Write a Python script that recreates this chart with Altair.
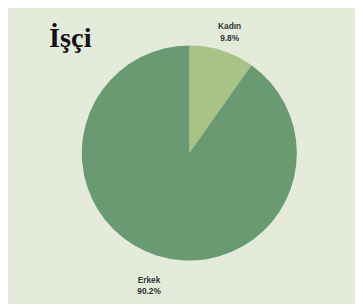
import altair as alt
import pandas as pd

categories = ["Kadın", "Erkek"]
shares = [9.8, 90.2]
share_labels = ["9.8%", "90.2%"]
colors = ["#a9c286", "#699a71"]

df = pd.DataFrame({
    "cat": categories,
    "share": shares,
    "order": list(range(len(categories))),
    "label": [f"{c}\n{s}" for c, s in zip(categories, share_labels)],
})

base = alt.Chart(df).encode(
    theta=alt.Theta("share:Q", stack=True),
    order=alt.Order("order:Q"),
)

pie = base.mark_arc(outerRadius=110, stroke=None).encode(
    color=alt.Color("cat:N", scale=alt.Scale(domain=categories, range=colors), legend=None)
)

labels = base.mark_text(radius=136, font="Liberation Sans", fontWeight="bold",
                        fontSize=8.5, color="#333333", lineBreak="\n",
                        baseline="middle", align="center", lineHeight=12).encode(
    text="label:N"
)

chart = alt.layer(pie, labels).properties(
    width=339, height=290,
    padding={"left": 16, "top": 0, "right": 0, "bottom": 4},
    background="#e4ebdb",
    title=alt.TitleParams("İşçi", anchor="start", dx=26, dy=46,
                          font="Liberation Serif", fontSize=29, fontWeight=900,
                          color="#111111"),
).configure_view(stroke=None)

chart.save("out.html", embed_options={"renderer": "svg", "actions": False})
